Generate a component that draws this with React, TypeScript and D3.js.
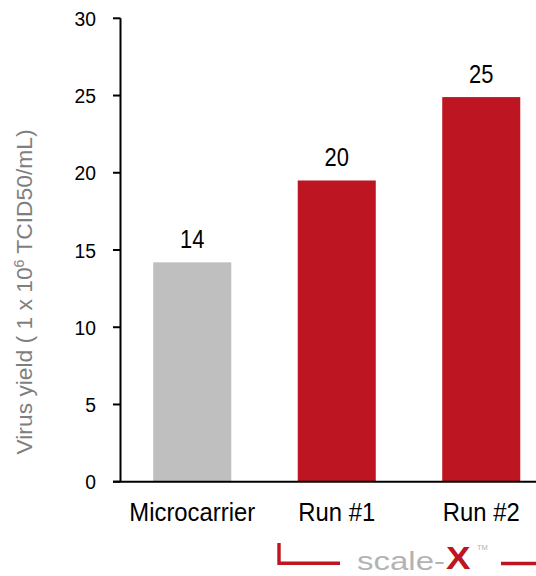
import React from "react";
import * as d3 from "d3";

// Virus yield per production run (1 x 10^6 TCID50/mL)
const categories = ["Microcarrier", "Run #1", "Run #2"];
const yields = [14.2, 19.5, 24.9];
const barColors = ["#bfbfbf", "#be1522", "#be1522"];
const yTicks = [0, 5, 10, 15, 20, 25, 30];

const W = 536;
const H = 576;
const RED = "#be1522";
const SANS = "'Liberation Sans', Arial, Helvetica, sans-serif";

// Horizontally condensed text, anchored at (x, y)
function NText({
  x,
  y,
  sx,
  children,
  ...rest
}: {
  x: number;
  y: number;
  sx: number;
  children: React.ReactNode;
  [k: string]: any;
}) {
  return (
    <text transform={`translate(${x},${y}) scale(${sx},1)`} fontFamily={SANS} {...rest}>
      {children}
    </text>
  );
}

export default function App() {
  const x = d3
    .scaleBand<string>()
    .domain(categories)
    .range([120, 553.5])
    .paddingInner(0.46)
    .paddingOuter(0.23);
  const y = d3.scaleLinear().domain([0, 30]).range([481.7, 18.3]);
  const fmt = d3.format(".0f");
  const cx = (c: string) => (x(c) as number) + x.bandwidth() / 2;

  return (
    <svg
      width={W}
      height={H}
      style={{ position: "absolute", left: 0, top: 0, background: "#fff" }}
    >
      {/* bars */}
      {categories.map((c, i) => (
        <rect
          key={c}
          x={x(c)}
          y={y(yields[i])}
          width={x.bandwidth()}
          height={y(0) - y(yields[i])}
          fill={barColors[i]}
        />
      ))}

      {/* value labels */}
      {categories.map((c, i) => (
        <NText
          key={"v" + c}
          x={cx(c)}
          y={y(yields[i]) - 14}
          sx={0.86}
          textAnchor="middle"
          fontSize={25.5}
          fill="#000"
        >
          {fmt(yields[i])}
        </NText>
      ))}

      {/* y axis */}
      <line x1={120.5} x2={120.5} y1={y(30)} y2={y(0)} stroke="#000" strokeWidth={2} />
      {yTicks.map((t) => (
        <g key={t}>
          <line x1={113} x2={120.5} y1={y(t)} y2={y(t)} stroke="#000" strokeWidth={2} />
          <NText
            x={96}
            y={y(t)}
            sx={0.92}
            dy="0.36em"
            textAnchor="end"
            fontSize={21}
            fill="#000"
          >
            {t}
          </NText>
        </g>
      ))}

      {/* x axis */}
      <line x1={113} x2={W} y1={y(0)} y2={y(0)} stroke="#000" strokeWidth={2} />
      {categories.map((c) => (
        <NText
          key={"c" + c}
          x={cx(c)}
          y={520.5}
          sx={0.9}
          textAnchor="middle"
          fontSize={26.5}
          fill="#000"
        >
          {c}
        </NText>
      ))}

      {/* y axis title */}
      <text
        transform="translate(31.5,292) rotate(-90)"
        textAnchor="middle"
        fontFamily={SANS}
        fontSize={22.8}
        fill="#7f7f7f"
      >
        Virus yield ( 1 x 10
        <tspan dy={-8} fontSize={14}>6</tspan>
        <tspan dy={8}> TCID50/mL)</tspan>
      </text>

      {/* scale-X bracket */}
      <path d="M279,543 V563.3 H340" fill="none" stroke={RED} strokeWidth={3.4} />
      <path d="M501,563.5 H536" fill="none" stroke={RED} strokeWidth={3.4} />
      <text
        x={357}
        y={569.5}
        fontFamily={SANS}
        fontSize={25}
        fill="#b3b3b3"
        textLength={88}
        lengthAdjust="spacingAndGlyphs"
      >
        scale-
      </text>
      <NText x={446} y={568.5} sx={1.15} fontSize={32} fontWeight="bold" fill={RED}>
        X
      </NText>
      <text x={477} y={550} fontFamily={SANS} fontSize={7.5} fill="#b3b3b3">
        TM
      </text>
    </svg>
  );
}
